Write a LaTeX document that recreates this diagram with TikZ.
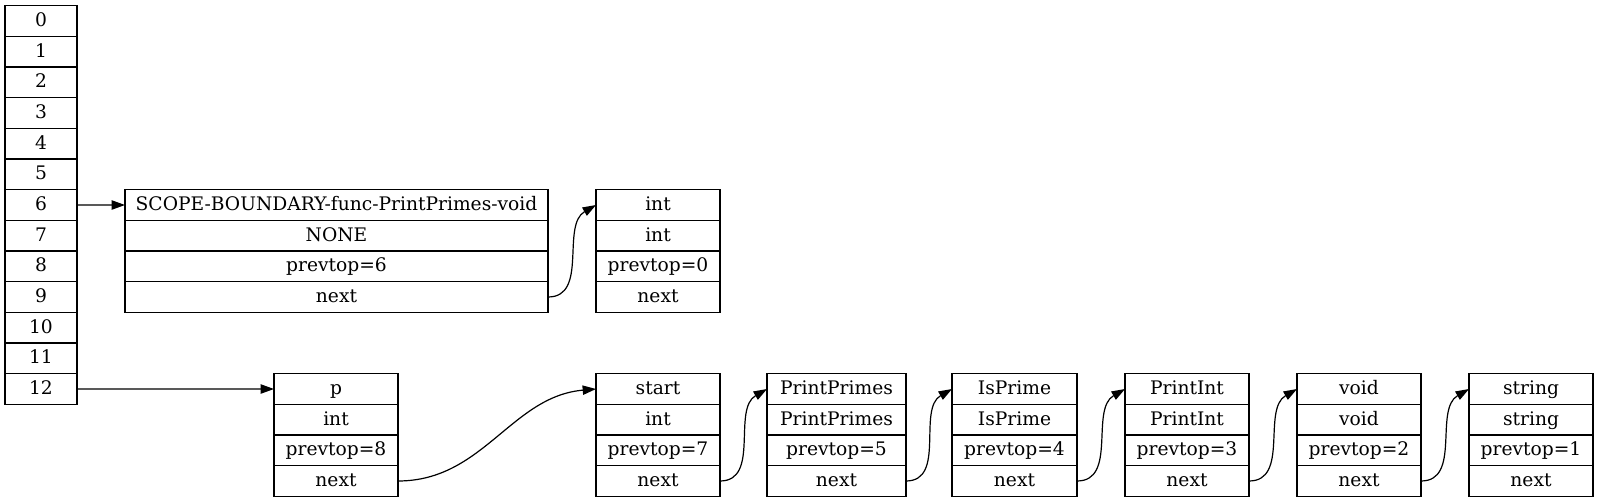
\documentclass[tikz,border=0pt]{standalone}
\usepackage{fontspec}
\setmainfont{DejaVu Serif}
\usetikzlibrary{arrows.meta, positioning}

\begin{document}
\begin{tikzpicture}[x=0.75pt, y=-0.75pt, line width=0.9pt,
  cell/.style={draw, minimum height=23pt, inner sep=0pt, outer sep=0pt,
    text height=10.5pt, text depth=2.5pt, font=\fontsize{14}{16}\selectfont},
  link/.style={-{Triangle[length=10pt, width=7pt]}}]
  \useasboundingbox (0,0) rectangle (1599,503);

  % 左边的栈数组
  \foreach \i in {0,...,12}
    \node[cell, minimum width=54pt] (a\i) at (41, {21+30.67*\i}) {\i};

  % 上面一行：作用域边界
  \foreach \nm/\x/\w/\ta/\tb/\p in {sc/336.5/423/SCOPE-BOUNDARY-func-PrintPrimes-void/NONE/6,
      t0/658/124/int/int/0} {
    \node[cell, minimum width={\w*0.75pt}] (\nm-1) at (\x, 205) {\ta};
    \node[cell, minimum width={\w*0.75pt}, below=0pt of \nm-1] (\nm-2) {\tb};
    \node[cell, minimum width={\w*0.75pt}, below=0pt of \nm-2] (\nm-3) {prevtop=\p};
    \node[cell, minimum width={\w*0.75pt}, below=0pt of \nm-3] (\nm-4) {next};
  }

  % 下面一行：符号链表
  \foreach \nm/\x/\w/\ta/\tb/\p in {p/336/124/p/int/8, start/658/124/start/int/7,
      pp/836.5/139/PrintPrimes/PrintPrimes/5, ip/1014.5/125/IsPrime/IsPrime/4,
      pi/1187/124/PrintInt/PrintInt/3, vd/1359/124/void/void/2,
      st/1531/124/string/string/1} {
    \node[cell, minimum width={\w*0.75pt}] (\nm-1) at (\x, 389) {\ta};
    \node[cell, minimum width={\w*0.75pt}, below=0pt of \nm-1] (\nm-2) {\tb};
    \node[cell, minimum width={\w*0.75pt}, below=0pt of \nm-2] (\nm-3) {prevtop=\p};
    \node[cell, minimum width={\w*0.75pt}, below=0pt of \nm-3] (\nm-4) {next};
  }

  \draw[link] (a6) -- (sc-1);
  \draw[link] (a12) -- (p-1);
  \draw[link] (sc-4.east) to[out=0, in=210] (t0-1.west);
  \draw[link] (p-4.east) to[out=0, in=185] (start-1.west);
  \foreach \u/\v in {start/pp, pp/ip, ip/pi, pi/vd, vd/st}
    \draw[link] (\u-4.east) to[out=0, in=210] (\v-1.west);
\end{tikzpicture}
\end{document}
